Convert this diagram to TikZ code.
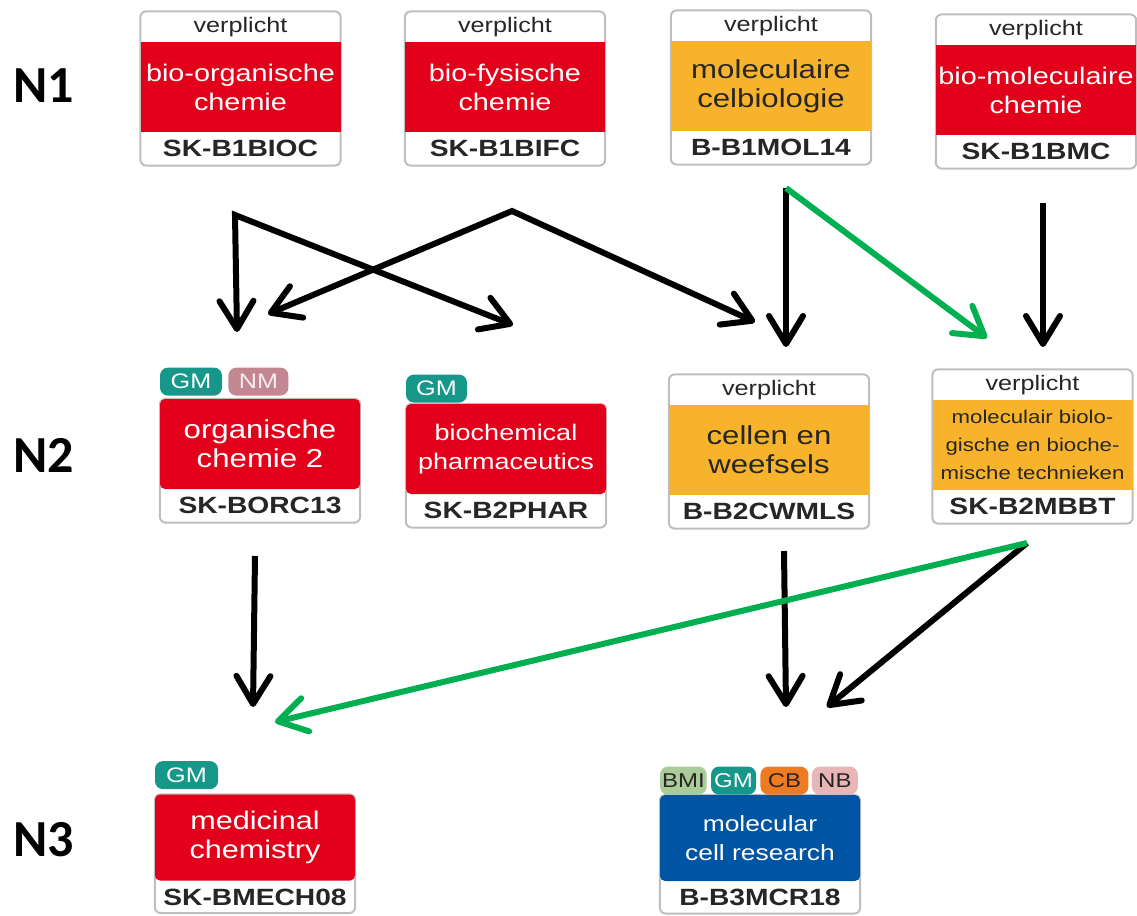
\documentclass[tikz,border=0pt]{standalone}
\usepackage{fontspec}
\newfontfamily\vakfont{Liberation Sans}[FakeStretch=1.2]
\newfontfamily\labelfont{Carlito}
\usetikzlibrary{arrows.meta,positioning,backgrounds}
\definecolor{rood}{RGB}{226,0,26}
\definecolor{oranje}{RGB}{247,179,43}
\definecolor{blauw}{RGB}{0,84,164}
\definecolor{groen}{RGB}{0,176,80}
\definecolor{rand}{RGB}{190,190,190}
\definecolor{tekst}{RGB}{38,38,38}
\definecolor{gmkleur}{RGB}{23,150,138}
\definecolor{nmkleur}{RGB}{194,135,144}
\definecolor{bmikleur}{RGB}{169,204,152}
\definecolor{cbkleur}{RGB}{238,122,34}
\definecolor{nbkleur}{RGB}{232,182,182}

\begin{document}
\begin{tikzpicture}[x=1pt, y=-1pt, >={Straight Barb[length=28pt,width=34pt,round]},
  vak/.style={fill=#1, minimum width=200, minimum height=90, text width=198, align=center, inner sep=0pt},
  fs/.style={font=\vakfont\fontsize{#1}{29}\selectfont},
  kop/.style={minimum width=200, minimum height=30, inner sep=0pt, text=tekst, font=\vakfont\fontsize{21}{22}\selectfont},
  vakcode/.style={minimum width=200, minimum height=33, inner sep=0pt, text=tekst, font=\vakfont\bfseries\fontsize{23.5}{24}\selectfont},
  kader/.style={draw=rand, line width=2, fill=white, rounded corners=6},
  tag/.style={fill=#1, rounded corners=8, minimum height=28, inner xsep=2, inner ysep=0, font=\vakfont\fontsize{21}{22}\selectfont},
  niveau/.style={font=\labelfont\bfseries\fontsize{52}{52}\selectfont, anchor=west, inner sep=0pt},
  pijl/.style={line width=6},
  groenpijl/.style={line width=6, draw=groen}]
  \useasboundingbox (0,0) rectangle (1137,915);

  % niveaus
  \node[niveau] (n1) at (13,86) {N1};
  \node[niveau] (n2) at (13,455) {N2};
  \node[niveau] (n3) at (13,840) {N3};

  % N1
  \node[vak=rood, text=white, fs=24] (bioc) at (240.5,87) {bio-organische\\chemie};
  \node[kop, above=0pt of bioc] (bioc-k) {verplicht};
  \node[vakcode, below=0pt of bioc] (bioc-c) {SK-B1BIOC};

  \node[vak=rood, text=white, fs=24] (bifc) at (505,87) {bio-fysische\\chemie};
  \node[kop, above=0pt of bifc] (bifc-k) {verplicht};
  \node[vakcode, below=0pt of bifc] (bifc-c) {SK-B1BIFC};

  \node[vak=oranje, text=tekst, fs=26] (mol) at (771,86) {moleculaire\\celbiologie};
  \node[kop, above=0pt of mol] (mol-k) {verplicht};
  \node[vakcode, below=0pt of mol] (mol-c) {B-B1MOL14};

  \node[vak=rood, text=white, fs=24] (bmc) at (1036,90) {bio-moleculaire\\chemie};
  \node[kop, above=0pt of bmc] (bmc-k) {verplicht};
  \node[vakcode, below=0pt of bmc] (bmc-c) {SK-B1BMC};

  % N2
  \node[vak=rood, text=white, fs=26, rounded corners=5] (orc) at (260,444) {organische\\chemie 2};
  \node[vakcode, below=0pt of orc] (orc-c) {SK-BORC13};
  \node[tag=gmkleur, text=white, minimum width=62, above right=3pt and 0pt of orc.north west] (orc-gm) {GM};
  \node[tag=nmkleur, text=white!85!nmkleur, minimum width=60, right=6pt of orc-gm] (orc-nm) {NM};

  \node[vak=rood, text=white, fs=22.5, rounded corners=5] (phar) at (506,449) {biochemical\\pharmaceutics};
  \node[vakcode, below=0pt of phar] (phar-c) {SK-B2PHAR};
  \node[tag=gmkleur, text=white, minimum width=61, above right=1pt and 0pt of phar.north west] (phar-gm) {GM};

  \node[vak=oranje, text=tekst, fs=26] (cwmls) at (769,450) {cellen en\\weefsels};
  \node[kop, above=0pt of cwmls] (cwmls-k) {verplicht};
  \node[vakcode, below=0pt of cwmls] (cwmls-c) {B-B2CWMLS};

  \node[vak=oranje, text=tekst, font=\vakfont\fontsize{18.5}{28}\selectfont] (mbbt) at (1032.5,445) {moleculair biolo-\\gische en bioche-\\mische technieken};
  \node[kop, above=0pt of mbbt] (mbbt-k) {verplicht};
  \node[vakcode, below=0pt of mbbt] (mbbt-c) {SK-B2MBBT};

  % N3
  \node[vak=rood, text=white, fs=25.5, minimum height=86, rounded corners=5] (mech) at (255,837.5) {medicinal\\chemistry};
  \node[vakcode, minimum height=32, below=0pt of mech] (mech-c) {SK-BMECH08};
  \node[tag=gmkleur, text=white, minimum width=63, above right=5pt and 0pt of mech.north west] (mech-gm) {GM};

  \node[vak=blauw, text=white, fs=22, minimum height=86, rounded corners=5] (mcr) at (760,838) {molecular\\cell research};
  \node[vakcode, minimum height=32, below=0pt of mcr] (mcr-c) {B-B3MCR18};
  \node[tag=bmikleur, text=tekst, minimum width=46, font=\vakfont\fontsize{20}{21}\selectfont, above right=0pt and 0pt of mcr.north west] (mcr-bmi) {BMI};
  \node[tag=gmkleur, text=white, minimum width=45, font=\vakfont\fontsize{20}{21}\selectfont, right=4pt of mcr-bmi] (mcr-gm) {GM};
  \node[tag=cbkleur, text=tekst, minimum width=48, font=\vakfont\fontsize{20}{21}\selectfont, right=4pt of mcr-gm] (mcr-cb) {CB};
  \node[tag=nbkleur, text=tekst, minimum width=46, font=\vakfont\fontsize{20}{21}\selectfont, right=3pt of mcr-cb] (mcr-nb) {NB};

  % kaders
  \begin{scope}[on background layer]
    \draw[kader] (bioc-k.north west) rectangle (bioc-c.south east);
    \draw[kader] (bifc-k.north west) rectangle (bifc-c.south east);
    \draw[kader] (mol-k.north west) rectangle (mol-c.south east);
    \draw[kader] (bmc-k.north west) rectangle (bmc-c.south east);
    \draw[kader] (orc.north west) rectangle (orc-c.south east);
    \draw[kader] (phar.north west) rectangle (phar-c.south east);
    \draw[kader] (cwmls-k.north west) rectangle (cwmls-c.south east);
    \draw[kader] (mbbt-k.north west) rectangle (mbbt-c.south east);
    \draw[kader] (mech.north west) rectangle (mech-c.south east);
    \draw[kader] (mcr.north west) rectangle (mcr-c.south east);
  \end{scope}

  % pijlen N1 -> N2
  \coordinate (bioc-uit) at (235,215);
  \coordinate (bifc-uit) at (512,211);
  \coordinate (mol-uit) at (786,188);
  \coordinate (bmc-uit) at (1043,203);
  \coordinate (orc-in1) at (237,332);
  \coordinate (orc-in2) at (268,314);
  \coordinate (phar-in) at (513,325);
  \coordinate (cwmls-in1) at (755,322);
  \coordinate (cwmls-in2) at (786,347);
  \coordinate (mbbt-in1) at (987,338);
  \coordinate (mbbt-in2) at (1043,347);
  \draw[pijl, <->] (orc-in1) -- (bioc-uit) -- (phar-in);
  \draw[pijl, <->] (orc-in2) -- (bifc-uit) -- (cwmls-in1);
  \draw[pijl, ->] (mol-uit) -- (cwmls-in2);
  \draw[pijl, ->] (bmc-uit) -- (mbbt-in2);
  \draw[groenpijl, ->] (mol-uit) -- (mbbt-in1);

  % pijlen N2 -> N3
  \coordinate (orc-uit) at (255,556);
  \coordinate (cwmls-uit) at (784,551);
  \coordinate (mbbt-uit) at (1027,543);
  \coordinate (mech-in1) at (253,707);
  \coordinate (mech-in2) at (275,722);
  \coordinate (mcr-in1) at (786,707);
  \coordinate (mcr-in2) at (827,707);
  \draw[pijl, ->] (orc-uit) -- (mech-in1);
  \draw[pijl, ->] (cwmls-uit) -- (mcr-in1);
  \draw[pijl, ->] (mbbt-uit) -- (mcr-in2);
  \draw[groenpijl, ->] (mbbt-uit) -- (mech-in2);
\end{tikzpicture}
\end{document}
